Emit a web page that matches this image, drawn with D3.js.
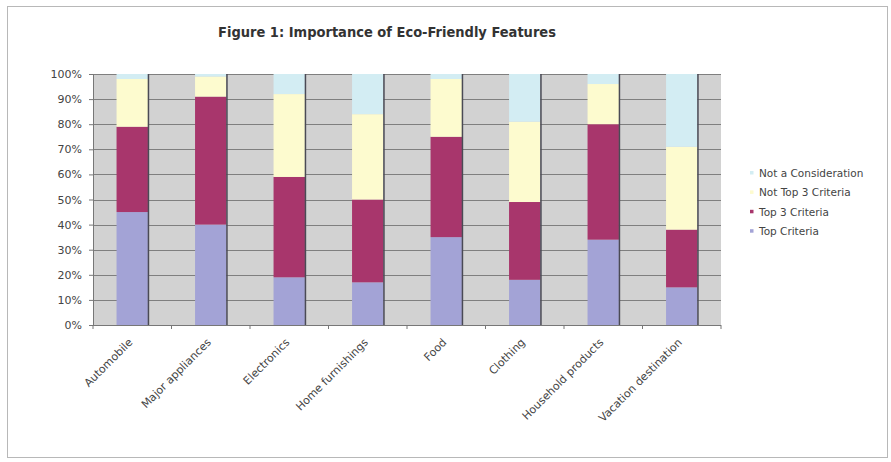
<!DOCTYPE html>
<html>
<head>
<meta charset="utf-8">
<script src="https://cdn.jsdelivr.net/npm/d3@7"></script>
<style>
  body { margin: 0; background: #fff; }
  text { font-family: "DejaVu Sans", sans-serif; }
  text.title { font-family: "DejaVu Sans Condensed", "DejaVu Sans", sans-serif; }
</style>
</head>
<body>
<div id="chart"></div>
<script>
// categories and series (percent of respondents)
const categories = ['Automobile', 'Major appliances', 'Electronics', 'Home furnishings', 'Food', 'Clothing', 'Household products', 'Vacation destination'];
const topCriteria = [45, 40, 19, 17, 35, 18, 34, 15];
const top3Criteria = [34, 51, 40, 33, 40, 31, 46, 23];
const notTop3 = [19, 8, 33, 34, 23, 32, 16, 33];
const notConsideration = [2, 1, 8, 16, 2, 19, 4, 29];
const seriesNames = ['Top Criteria', 'Top 3 Criteria', 'Not Top 3 Criteria', 'Not a Consideration'];
const yTicks = [0, 10, 20, 30, 40, 50, 60, 70, 80, 90, 100];

const WIDTH = 891, HEIGHT = 462;
const colors = ['#a3a3d6', '#a8366c', '#fdfbcf', '#d3edf3'];

const svg = d3.select('#chart').append('svg')
  .attr('width', WIDTH)
  .attr('height', HEIGHT);

// outer frame
svg.append('rect')
  .attr('x', 7.5).attr('y', 6.5)
  .attr('width', 880).attr('height', 451)
  .attr('fill', '#fff')
  .attr('stroke', '#b8b8b8');

svg.append('text')
  .attr('class', 'title')
  .attr('x', 387).attr('y', 37)
  .attr('text-anchor', 'middle')
  .attr('font-size', 14.5)
  .attr('font-weight', 'bold')
  .attr('fill', '#333')
  .text('Figure 1: Importance of Eco-Friendly Features');

const plot = { left: 93, right: 721, top: 74, bottom: 325 };

const x = d3.scaleBand()
  .domain(categories)
  .range([plot.left, plot.right])
  .paddingInner(0.6)
  .paddingOuter(0.3);

const y = d3.scaleLinear()
  .domain([0, 100])
  .range([plot.bottom, plot.top]);

// plot background
svg.append('rect')
  .attr('x', plot.left).attr('y', plot.top)
  .attr('width', plot.right - plot.left)
  .attr('height', plot.bottom - plot.top)
  .attr('fill', '#d2d2d2');

// horizontal gridlines
svg.append('g')
  .selectAll('line')
  .data(yTicks.slice(1))
  .enter()
  .append('line')
  .attr('x1', plot.left).attr('x2', plot.right)
  .attr('y1', d => Math.round(y(d)) + 0.5)
  .attr('y2', d => Math.round(y(d)) + 0.5)
  .attr('stroke', '#7f7f7f');

// stacked bars
const rows = categories.map((c, i) => ({
  category: c,
  'Top Criteria': topCriteria[i],
  'Top 3 Criteria': top3Criteria[i],
  'Not Top 3 Criteria': notTop3[i],
  'Not a Consideration': notConsideration[i]
}));
const stacked = d3.stack().keys(seriesNames)(rows);

svg.append('g')
  .selectAll('g')
  .data(stacked)
  .enter()
  .append('g')
  .attr('fill', (d, i) => colors[i])
  .selectAll('rect')
  .data(d => d)
  .enter()
  .append('rect')
  .attr('x', d => x(d.data.category))
  .attr('y', d => y(Math.min(d[1], 100)))
  .attr('width', x.bandwidth())
  .attr('height', d => y(d[0]) - y(Math.min(d[1], 100)));

// dark vertical lines on the right side of each bar
svg.append('g')
  .selectAll('line')
  .data(categories)
  .enter()
  .append('line')
  .attr('x1', d => x(d) + x.bandwidth() + 0.5)
  .attr('x2', d => x(d) + x.bandwidth() + 0.5)
  .attr('y1', plot.top)
  .attr('y2', plot.bottom)
  .attr('stroke', '#4a4a55')
  .attr('stroke-width', 1.5);

// y axis
const yAxis = svg.append('g')
  .attr('transform', `translate(${plot.left},0)`)
  .call(d3.axisLeft(y).tickValues(yTicks).tickFormat(d => d + '%').tickSize(4).tickPadding(7));
yAxis.select('.domain').attr('stroke', '#777');
yAxis.selectAll('.tick line').attr('stroke', '#777');
yAxis.selectAll('text').attr('font-size', 11).attr('fill', '#444');

// x axis
const boundaries = d3.range(categories.length + 1).map(i => plot.left + i * (plot.right - plot.left) / categories.length);
svg.append('line')
  .attr('x1', plot.left).attr('x2', plot.right)
  .attr('y1', plot.bottom + 0.5).attr('y2', plot.bottom + 0.5)
  .attr('stroke', '#777');
svg.append('g')
  .selectAll('line')
  .data(boundaries)
  .enter()
  .append('line')
  .attr('x1', d => d).attr('x2', d => d)
  .attr('y1', plot.bottom).attr('y2', plot.bottom + 4)
  .attr('stroke', '#777');

svg.append('g')
  .selectAll('text')
  .data(categories)
  .enter()
  .append('text')
  .attr('transform', d => `translate(${x(d) + x.bandwidth() / 2 + 1},${plot.bottom + 18}) rotate(-45)`)
  .attr('text-anchor', 'end')
  .attr('font-size', 11)
  .attr('fill', '#444')
  .text(d => d);

// legend (reverse order, as in the original)
const legend = svg.append('g')
  .selectAll('g')
  .data(seriesNames.slice().reverse())
  .enter()
  .append('g')
  .attr('transform', (d, i) => `translate(750,${173 + i * 19.4})`);

legend.append('rect')
  .attr('x', 0).attr('y', -2)
  .attr('width', 3.5).attr('height', 3.5)
  .attr('fill', d => colors[seriesNames.indexOf(d)]);

legend.append('text')
  .attr('x', 9).attr('y', 4)
  .attr('font-size', 10.5)
  .attr('fill', '#444')
  .text(d => d);
</script>
</body>
</html>
